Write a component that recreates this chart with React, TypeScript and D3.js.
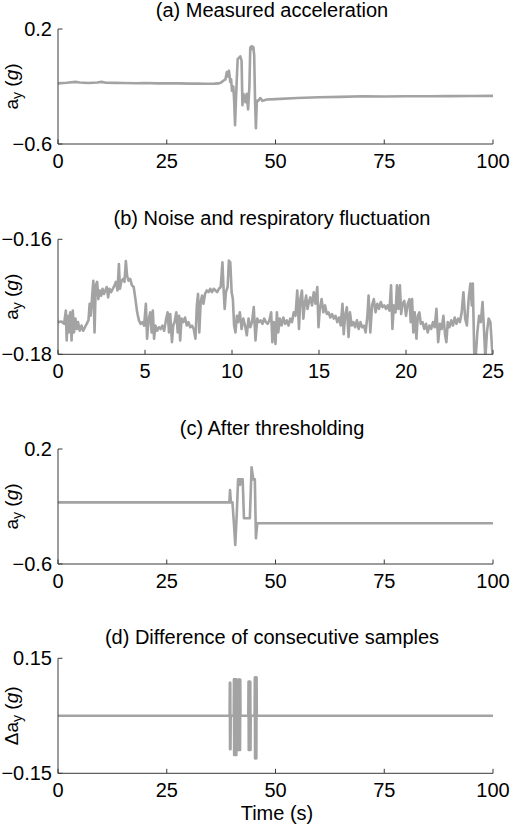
import React from 'react';
import * as d3 from 'd3';

// ---------- data ----------
const aTime = [0, 2, 4, 5, 7, 9, 10, 11, 13, 15, 18, 20, 23, 25, 28, 30, 32, 34, 36, 37, 37.5, 38, 38.5, 38.8, 39.0, 39.3, 39.6, 39.8, 40.0, 40.3, 40.5, 40.7, 40.9, 41.1, 41.3, 41.6, 41.9, 42.2, 42.4, 42.6, 42.9, 43.1, 43.4, 43.7, 44.0, 44.2, 44.5, 44.7, 44.9, 45.1, 45.3, 45.5, 45.7, 46.0, 46.5, 47, 48, 50, 55, 60, 65, 70, 75, 80, 85, 90, 95, 100];
const aValue = [-0.178, -0.174, -0.168, -0.172, -0.176, -0.172, -0.168, -0.174, -0.175, -0.176, -0.177, -0.176, -0.178, -0.177, -0.178, -0.18, -0.179, -0.181, -0.18, -0.178, -0.172, -0.16, -0.15, -0.1, -0.13, -0.09, -0.17, -0.15, -0.23, -0.2, -0.3, -0.47, -0.3, -0.15, -0.01, 0.0, 0.01, -0.02, -0.33, -0.25, -0.27, -0.31, -0.25, -0.36, -0.2, 0.07, 0.08, 0.06, 0.075, 0.02, -0.3, -0.49, -0.3, -0.3, -0.28, -0.3, -0.29, -0.288, -0.28, -0.275, -0.272, -0.268, -0.27, -0.268, -0.268, -0.267, -0.266, -0.265];

const bTime = [0.0, 0.2, 0.35, 0.45, 0.5, 0.55, 0.62, 0.7, 0.78, 0.85, 0.92, 1.0, 1.08, 1.15, 1.25, 1.35, 1.45, 1.55, 1.65, 1.75, 1.82, 1.88, 1.95, 2.03, 2.1, 2.17, 2.25, 2.32, 2.4, 2.48, 2.56, 2.64, 2.72, 2.8, 2.88, 2.96, 3.05, 3.15, 3.25, 3.33, 3.42, 3.5, 3.56, 3.65, 3.75, 3.82, 3.9, 3.97, 4.05, 4.15, 4.25, 4.35, 4.45, 4.55, 4.65, 4.75, 4.85, 4.95, 5.05, 5.12, 5.2, 5.3, 5.38, 5.45, 5.52, 5.6, 5.7, 5.8, 5.9, 6.0, 6.1, 6.2, 6.3, 6.38, 6.45, 6.55, 6.62, 6.7, 6.8, 6.88, 6.96, 7.02, 7.1, 7.2, 7.3, 7.4, 7.5, 7.6, 7.7, 7.8, 7.9, 7.98, 8.05, 8.12, 8.2, 8.28, 8.36, 8.45, 8.55, 8.65, 8.75, 8.85, 8.95, 9.05, 9.15, 9.25, 9.35, 9.45, 9.52, 9.58, 9.65, 9.75, 9.82, 9.9, 9.98, 10.05, 10.12, 10.2, 10.28, 10.35, 10.45, 10.55, 10.65, 10.75, 10.85, 10.95, 11.05, 11.15, 11.25, 11.35, 11.45, 11.55, 11.65, 11.75, 11.85, 11.95, 12.05, 12.15, 12.25, 12.32, 12.4, 12.5, 12.58, 12.66, 12.75, 12.85, 12.95, 13.05, 13.15, 13.25, 13.35, 13.45, 13.55, 13.65, 13.75, 13.85, 13.93, 14.02, 14.1, 14.18, 14.26, 14.34, 14.42, 14.5, 14.6, 14.7, 14.8, 14.9, 14.97, 15.05, 15.15, 15.25, 15.35, 15.45, 15.55, 15.65, 15.75, 15.85, 15.95, 16.05, 16.15, 16.25, 16.35, 16.42, 16.5, 16.6, 16.7, 16.78, 16.88, 16.98, 17.08, 17.18, 17.28, 17.38, 17.48, 17.58, 17.68, 17.78, 17.85, 17.95, 18.05, 18.15, 18.25, 18.35, 18.45, 18.55, 18.65, 18.75, 18.85, 18.95, 19.05, 19.14, 19.22, 19.3, 19.4, 19.48, 19.56, 19.65, 19.72, 19.8, 19.9, 20.0, 20.1, 20.2, 20.27, 20.35, 20.42, 20.5, 20.6, 20.68, 20.77, 20.85, 20.95, 21.05, 21.15, 21.25, 21.35, 21.45, 21.55, 21.65, 21.75, 21.85, 21.95, 22.05, 22.15, 22.25, 22.32, 22.4, 22.5, 22.6, 22.7, 22.8, 22.9, 23.0, 23.1, 23.2, 23.3, 23.4, 23.5, 23.6, 23.7, 23.78, 23.84, 23.92, 24.0, 24.1, 24.2, 24.3, 24.4, 24.48, 24.56, 24.65, 24.75, 24.85, 24.95, 25.0];
const bValue = [-0.1744, -0.1743, -0.1747, -0.1724, -0.1776, -0.1733, -0.1762, -0.1727, -0.1776, -0.1724, -0.1762, -0.1738, -0.1756, -0.1744, -0.1759, -0.175, -0.1759, -0.1753, -0.1747, -0.1741, -0.1712, -0.1733, -0.1704, -0.1672, -0.1762, -0.168, -0.1674, -0.1704, -0.1689, -0.1698, -0.1686, -0.1695, -0.1689, -0.1683, -0.1701, -0.1686, -0.1692, -0.1686, -0.168, -0.1674, -0.1689, -0.1643, -0.1686, -0.1672, -0.1669, -0.1674, -0.1638, -0.1663, -0.1672, -0.1669, -0.168, -0.1683, -0.1704, -0.1727, -0.1741, -0.1747, -0.1744, -0.175, -0.1712, -0.1773, -0.1741, -0.1727, -0.1762, -0.1724, -0.1773, -0.175, -0.1759, -0.1753, -0.1756, -0.175, -0.1759, -0.1741, -0.1727, -0.1762, -0.173, -0.1779, -0.175, -0.1744, -0.1727, -0.1762, -0.1733, -0.1776, -0.1738, -0.1744, -0.1736, -0.175, -0.1744, -0.1753, -0.175, -0.1756, -0.1773, -0.1715, -0.1695, -0.1762, -0.1709, -0.1698, -0.1712, -0.1695, -0.1689, -0.1692, -0.1686, -0.1692, -0.1686, -0.1689, -0.1692, -0.1686, -0.1683, -0.164, -0.1689, -0.1721, -0.1692, -0.1683, -0.1637, -0.164, -0.1692, -0.1704, -0.175, -0.1762, -0.1733, -0.1744, -0.1727, -0.1756, -0.1738, -0.175, -0.1767, -0.1738, -0.1753, -0.1744, -0.1718, -0.1776, -0.1738, -0.1744, -0.1741, -0.1747, -0.1738, -0.1744, -0.1747, -0.1741, -0.1727, -0.1779, -0.1744, -0.1782, -0.1727, -0.1762, -0.1738, -0.175, -0.1736, -0.1747, -0.1741, -0.175, -0.1738, -0.1744, -0.1727, -0.1733, -0.1689, -0.1756, -0.1704, -0.1689, -0.1738, -0.1712, -0.1698, -0.1721, -0.1709, -0.1701, -0.1715, -0.1692, -0.1712, -0.1683, -0.1753, -0.1721, -0.1704, -0.1727, -0.1715, -0.173, -0.1727, -0.1736, -0.173, -0.1738, -0.1733, -0.1744, -0.1736, -0.175, -0.1712, -0.1765, -0.1733, -0.1718, -0.177, -0.1727, -0.175, -0.1744, -0.1753, -0.1741, -0.1756, -0.1744, -0.1753, -0.175, -0.1762, -0.1733, -0.1698, -0.1762, -0.1715, -0.1704, -0.1727, -0.1712, -0.1721, -0.1709, -0.1718, -0.1715, -0.1721, -0.1715, -0.1724, -0.168, -0.1756, -0.1715, -0.1727, -0.168, -0.1721, -0.168, -0.173, -0.1712, -0.1707, -0.1733, -0.1712, -0.1704, -0.1744, -0.1704, -0.1762, -0.1727, -0.1773, -0.1733, -0.1727, -0.1747, -0.1744, -0.1756, -0.1747, -0.1762, -0.175, -0.1756, -0.1744, -0.1753, -0.1721, -0.1779, -0.1747, -0.1756, -0.1733, -0.1767, -0.1779, -0.1744, -0.1753, -0.1741, -0.175, -0.1736, -0.1747, -0.1738, -0.1744, -0.1727, -0.1692, -0.1738, -0.175, -0.1704, -0.1677, -0.1715, -0.1677, -0.1797, -0.1808, -0.1762, -0.1733, -0.1744, -0.1709, -0.1756, -0.1808, -0.1762, -0.1738, -0.1744, -0.1791, -0.1808];

const cTime = [0, 39.4, 39.55, 39.75, 40.1, 40.4, 40.75, 41.1, 41.4, 41.7, 41.85, 42.0, 42.45, 42.75, 44.1, 44.5, 44.9, 45.25, 45.5, 45.8, 100];
const cValue = [-0.171, -0.171, -0.085, -0.171, -0.171, -0.3, -0.468, -0.25, -0.011, -0.011, -0.05, -0.011, -0.011, -0.282, -0.282, 0.073, -0.011, -0.011, -0.421, -0.317, -0.317];

const dTime = [0, 39.45, 39.5, 39.55, 39.6, 39.65, 39.7, 40.4, 40.45, 40.5, 40.55, 40.6, 40.65, 40.7, 40.75, 40.8, 40.85, 40.9, 40.95, 41.0, 41.05, 41.35, 41.4, 41.45, 41.5, 41.55, 41.6, 41.65, 41.7, 41.75, 41.8, 41.85, 41.9, 41.95, 43.75, 43.8, 43.85, 43.9, 43.95, 44.0, 44.05, 44.1, 44.15, 44.2, 44.25, 44.3, 45.2, 45.25, 45.3, 45.35, 45.4, 45.45, 45.5, 45.55, 45.6, 45.65, 45.7, 100];
const dValue = [0, 0, 0.086, -0.087, 0.086, -0.087, 0, 0, 0.095, -0.102, 0.095, -0.102, 0.095, -0.102, 0.095, -0.102, 0.095, -0.102, 0.095, -0.102, 0, 0, 0.094, -0.089, 0.094, -0.089, 0.094, -0.089, 0.094, -0.089, 0.094, -0.089, 0.094, 0, 0, 0.089, -0.089, 0.089, -0.089, 0.089, -0.089, 0.089, -0.089, 0.089, -0.089, 0, 0, 0.1, -0.111, 0.1, -0.111, 0.1, -0.111, 0.1, -0.111, 0.1, 0, 0];

const xTicksLong = [0, 25, 50, 75, 100];
const xTicksShort = [0, 5, 10, 15, 20, 25];
const aYTicks = [-0.6, 0.2];
const bYTicks = [-0.18, -0.16];
const cYTicks = [-0.6, 0.2];
const dYTicks = [-0.15, 0.15];

const panelTitles = [
  '(a) Measured acceleration',
  '(b) Noise and respiratory fluctuation',
  '(c) After thresholding',
  '(d) Difference of consecutive samples',
];
const xAxisTitle = 'Time (s)';

// ---------- layout ----------
const W = 510;
const H = 826;
const LEFT = 58;
const RIGHT = 493;
const PH = 115;
const TOPS = [29, 239.3, 449, 658.3];
const FONT = '"Liberation Sans", Arial, Helvetica, sans-serif';
const FS = 20;
const AXIS = '#3a3a3a';
const LINE = '#a3a3a3';

function fmt(v: number): string {
  const s = String(Math.abs(v));
  return (v < 0 ? '\u2212' : '') + s;
}

type PanelProps = {
  idx: number;
  top: number;
  xDomain: [number, number];
  yDomain: [number, number];
  xTicks: number[];
  yTicks: number[];
  time: number[];
  value: number[];
  title: string;
  delta?: boolean;
  xTitle?: string;
};

function Panel(p: PanelProps) {
  const x = d3.scaleLinear().domain(p.xDomain).range([LEFT, RIGHT]);
  const y = d3.scaleLinear().domain(p.yDomain).range([p.top + PH, p.top]);
  const pts = p.time.map((t, i) => [t, p.value[i]] as [number, number]);
  const line = d3
    .line<[number, number]>()
    .x((d) => x(d[0]))
    .y((d) => y(d[1]));
  const bottom = p.top + PH;
  const cid = `clip-${p.idx}`;
  const tick = 4.5;
  const midY = p.top + PH / 2;
  const titleY = Math.max(p.top - 14.5, 16.5);
  return (
    <g>
      <defs>
        <clipPath id={cid}>
          <rect x={LEFT} y={p.top} width={RIGHT - LEFT} height={PH} />
        </clipPath>
      </defs>
      <path
        d={line(pts) || ''}
        fill="none"
        stroke={LINE}
        strokeWidth={2.6}
        strokeLinejoin="round"
        clipPath={`url(#${cid})`}
      />
      {/* axes */}
      <line x1={LEFT} x2={LEFT} y1={p.top} y2={bottom} stroke={AXIS} strokeWidth={1} />
      <line x1={LEFT} x2={RIGHT} y1={bottom} y2={bottom} stroke={AXIS} strokeWidth={1} />
      {p.xTicks.map((t) => (
        <g key={'xt' + t}>
          <line x1={x(t)} x2={x(t)} y1={bottom} y2={bottom - tick} stroke={AXIS} strokeWidth={1} />
          <text x={x(t)} y={bottom + 24} textAnchor="middle" fontSize={FS} fontFamily={FONT} fill="#000">
            {fmt(t)}
          </text>
        </g>
      ))}
      {p.yTicks.map((t) => (
        <g key={'yt' + t}>
          <line x1={LEFT} x2={LEFT + tick} y1={y(t)} y2={y(t)} stroke={AXIS} strokeWidth={1} />
          <text x={52} y={y(t)} dy="0.35em" textAnchor="end" fontSize={FS} fontFamily={FONT} fill="#000">
            {fmt(t)}
          </text>
        </g>
      ))}
      <text x={272} y={titleY} textAnchor="middle" fontSize={FS} fontFamily={FONT} fill="#000">
        {p.title}
      </text>
      <text
        transform={`translate(17.5,${midY}) rotate(-90)`}
        textAnchor="middle"
        fontSize={19}
        fontFamily={FONT}
        fill="#000"
      >
        <tspan>{p.delta ? '\u0394a' : 'a'}</tspan>
        <tspan fontSize={14} dy={4}>y</tspan>
        <tspan dy={-4}> (</tspan>
        <tspan fontStyle="italic">g</tspan>
        <tspan>)</tspan>
      </text>
      {p.xTitle && (
        <text x={277} y={bottom + 47} textAnchor="middle" fontSize={FS} fontFamily={FONT} fill="#000">
          {p.xTitle}
        </text>
      )}
    </g>
  );
}

export default function App() {
  return (
    <svg
      width={W}
      height={H}
      viewBox={`0 0 ${W} ${H}`}
      style={{ position: 'absolute', left: 0, top: 0, background: '#fff' }}
    >
      <rect x={0} y={0} width={W} height={H} fill="#fff" />
      <Panel idx={0} top={TOPS[0]} xDomain={[0, 100]} yDomain={[-0.6, 0.2]} xTicks={xTicksLong} yTicks={aYTicks} time={aTime} value={aValue} title={panelTitles[0]} />
      <Panel idx={1} top={TOPS[1]} xDomain={[0, 25]} yDomain={[-0.18, -0.16]} xTicks={xTicksShort} yTicks={bYTicks} time={bTime} value={bValue} title={panelTitles[1]} />
      <Panel idx={2} top={TOPS[2]} xDomain={[0, 100]} yDomain={[-0.6, 0.2]} xTicks={xTicksLong} yTicks={cYTicks} time={cTime} value={cValue} title={panelTitles[2]} />
      <Panel idx={3} top={TOPS[3]} xDomain={[0, 100]} yDomain={[-0.15, 0.15]} xTicks={xTicksLong} yTicks={dYTicks} time={dTime} value={dValue} title={panelTitles[3]} delta xTitle={xAxisTitle} />
    </svg>
  );
}
